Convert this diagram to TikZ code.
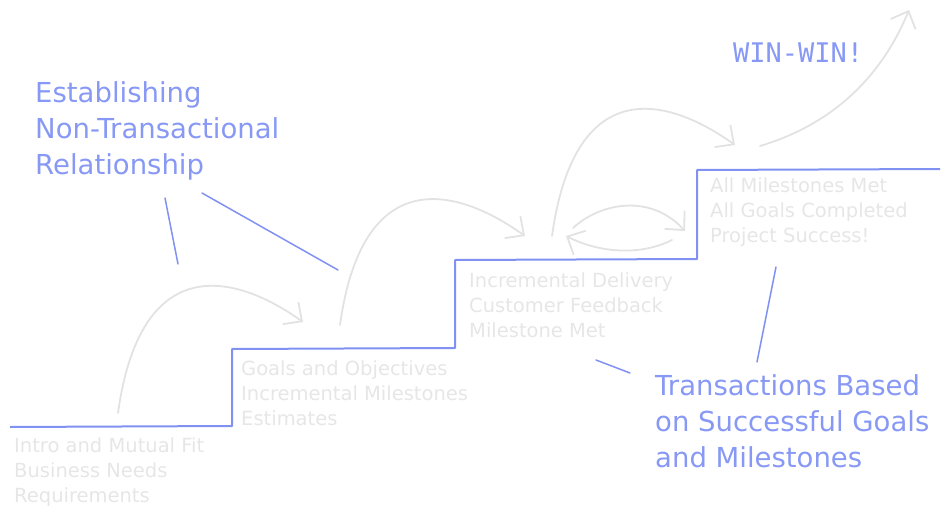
\documentclass[tikz,border=0pt]{standalone}
\usepackage{fontspec}
\setmainfont{DejaVu Sans}
\newfontfamily\winfont{DejaVu Sans Mono}
\usetikzlibrary{arrows.meta, positioning, calc}
\definecolor{stepBlue}{RGB}{128,145,242}
\definecolor{noteBlue}{RGB}{135,152,245}
\definecolor{sketchGray}{RGB}{226,226,226}
\definecolor{textGray}{RGB}{230,230,230}
\tikzset{
    % Lines
    stair/.style={draw=stepBlue, line width=2pt, line join=round},
    pointer/.style={draw=stepBlue, line width=1.5pt, line cap=round},
    sketch/.style={draw=sketchGray, line width=1.8pt, line cap=round,
                   -{Straight Barb[length=14pt, width=27pt, line width=1.8pt]}},
    % Texts (anchored on the last baseline)
    stage/.style={anchor=base west, inner sep=0pt, align=left, text=textGray,
                  font=\fontsize{19.5}{25}\selectfont},
    note/.style={anchor=base west, inner sep=0pt, align=left, text=noteBlue,
                 font=\fontsize{27.5}{36}\selectfont}
}

\begin{document}
\begin{tikzpicture}[x=1pt, y=-1pt]
\useasboundingbox (0,0) rectangle (948,519);

% Staircase
\coordinate (s0) at (10,427);
\coordinate (s1) at (232,426);
\coordinate (s2) at (232,349);
\coordinate (s3) at (455,348);
\coordinate (s4) at (455,260);
\coordinate (s5) at (697,259);
\coordinate (s6) at (697,170);
\coordinate (s7) at (940,169);
\draw[stair] (s0) -- (s1) -- (s2) -- (s3) -- (s4) -- (s5) -- (s6) -- (s7);

% Stage texts
\node[stage] (intro) at (14,502) {Intro and Mutual Fit\\Business Needs\\Requirements};
\node[stage] (goals) at (241,425) {Goals and Objectives\\Incremental Milestones\\Estimates};
\node[stage] (deliv) at (469,337) {Incremental Delivery\\Customer Feedback\\Milestone Met};
\node[stage] (done) at (710,242) {All Milestones Met\\All Goals Completed\\Project Success!};

% Notes
\node[note] (estab) at (35,174) {Establishing\\Non-Transactional\\Relationship};
\node[note] (trans) at (655,467) {Transactions Based\\on Successful Goals\\and Milestones};
\node[anchor=base west, inner sep=0pt, text=noteBlue, font=\winfont\fontsize{27}{30}\selectfont]
    (win) at (733,63) {WIN-WIN!};

% Step arrows
\coordinate (a1s) at (118,413);
\coordinate (a1e) at (303,322);
\coordinate (a2s) at (340,325);
\coordinate (a2e) at (525,236);
\coordinate (a3s) at (552,236);
\coordinate (a3e) at (735,145);
\foreach \i in {1,2,3}{
    \draw[sketch] (a\i s) .. controls ($(a\i s)+(22,-158)$) and ($(a\i e)+(-73,-52)$) .. (a\i e);
}

% Feedback loop
\coordinate (fbA) at (573,228);
\coordinate (fbB) at (685,231);
\coordinate (fbC) at (672,240);
\coordinate (fbD) at (566,236);
\draw[sketch] (fbA) .. controls (600,203) and (650,193) .. (fbB);
\draw[sketch] (fbC) .. controls (640,256) and (600,253) .. (fbD);

% Win arrow
\coordinate (wS) at (760,146);
\coordinate (wE) at (909,10);
\draw[sketch] (wS) .. controls (830,125) and (880,80) .. (wE);

% Pointers
\coordinate (p1a) at (165,198);
\coordinate (p1b) at (178,264);
\coordinate (p2a) at (202,193);
\coordinate (p2b) at (338,270);
\coordinate (p3a) at (596,360);
\coordinate (p3b) at (630,373);
\coordinate (p4a) at (776,267);
\coordinate (p4b) at (757,362);
\draw[pointer] (p1a) -- (p1b);
\draw[pointer] (p2a) -- (p2b);
\draw[pointer] (p3a) -- (p3b);
\draw[pointer] (p4a) -- (p4b);

\end{tikzpicture}
\end{document}
